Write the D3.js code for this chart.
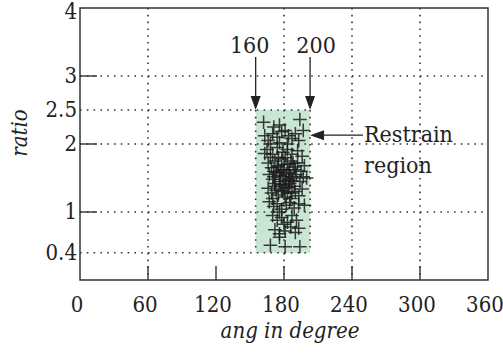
<!DOCTYPE html>
<html>
<head>
<meta charset="utf-8">
<script src="https://cdn.jsdelivr.net/npm/d3@7"></script>
<style>
  html, body { margin: 0; padding: 0; background: #fff; }
</style>
</head>
<body>
<div id="chart"></div>
<script>
// axis ticks
const xTicks = [0, 60, 120, 180, 240, 300, 360];
const yTicks = [0.4, 1, 2, 2.5, 3, 4];
const xGrid = [60, 180, 240, 300];
const yGridFull = [1, 2, 3];
const yGridShort = [0.4, 2.5];
const yTickMarks = [1, 2, 3];

// restrain region (as drawn) and its labels
const regionX = [155, 203];
const regionY = [0.4, 2.5];
const regionLabels = ['160', '200'];
const noteLines = ['Restrain', 'region'];
const noteRatio = 2.13;

// scatter points: [angle, ratio]
const points = [
  [162, 2.32], [194, 2.36], [176, 2.28], [197, 2.2], [171, 2.25],
  [163, 2.12], [166, 2.05], [170, 2.15], [174, 2.1], [178, 2.18], [181, 2.2],
  [184, 2.12], [187, 2.08], [190, 2.15], [168, 2.0], [176, 2.02], [183, 2.0], [193, 2.05],
  [165, 1.92], [170, 1.85], [174, 1.95], [179, 1.88], [183, 1.92], [187, 1.85],
  [192, 1.9], [196, 1.82], [168, 1.8], [181, 1.8], [163, 1.86],
  [166, 1.72], [169, 1.65], [172, 1.75], [175, 1.68], [178, 1.78], [180, 1.62],
  [183, 1.7], [186, 1.75], [189, 1.66], [192, 1.72], [195, 1.6], [198, 1.68],
  [171, 1.6], [185, 1.62], [177, 1.58],
  [167, 1.55], [170, 1.48], [173, 1.58], [176, 1.45], [179, 1.52], [182, 1.56],
  [185, 1.42], [188, 1.5], [191, 1.55], [194, 1.45], [197, 1.52], [200, 1.5],
  [172, 1.42], [181, 1.4], [187, 1.46],
  [166, 1.35], [169, 1.28], [172, 1.38], [175, 1.25], [178, 1.32], [181, 1.22],
  [184, 1.36], [187, 1.28], [190, 1.3], [193, 1.24], [196, 1.34], [170, 1.2], [186, 1.2],
  [174, 1.66], [180, 1.7], [176, 1.54], [184, 1.58], [189, 1.38], [179, 1.3],
  [173, 1.32], [183, 1.28], [177, 1.4], [186, 1.52], [190, 1.62], [175, 1.8],
  [182, 1.46], [178, 1.62], [171, 1.52], [188, 1.72], [180, 1.35], [184, 1.48],
  [167, 1.15], [171, 1.08], [174, 1.12], [178, 1.04], [182, 1.1], [185, 1.14],
  [189, 1.06], [193, 1.12], [198, 1.1], [176, 1.0],
  [170, 0.95], [174, 0.88], [178, 0.92], [183, 0.85], [187, 0.95], [191, 0.88], [180, 0.82],
  [172, 0.74], [176, 0.68], [181, 0.72], [186, 0.78], [190, 0.7], [193, 0.76], [176, 0.63],
  [168, 0.51], [181, 0.49], [194, 0.49]
];

const width = 503, height = 353;
const margin = { top: 8, right: 15, bottom: 73, left: 80 };

const svg = d3.select('#chart').append('svg')
  .attr('width', width)
  .attr('height', height)
  .style('font-family', "'DejaVu Serif Condensed', 'DejaVu Serif'");

const x = d3.scaleLinear().domain([0, 360]).range([margin.left, width - margin.right]);
const y = d3.scaleLinear().domain([0, 4]).range([height - margin.bottom, margin.top]);

const dotted = '1.6,5.2';
const ink = '#222';
const fs = 22;

// green region
svg.append('rect')
  .attr('x', x(regionX[0]))
  .attr('y', y(regionY[1]))
  .attr('width', x(regionX[1]) - x(regionX[0]))
  .attr('height', y(regionY[0]) - y(regionY[1]))
  .attr('fill', '#c8e6d3');

// grid
const grid = svg.append('g')
  .attr('stroke', '#333')
  .attr('stroke-width', 1.6)
  .attr('stroke-dasharray', dotted);

grid.selectAll('.vgrid').data(xGrid).enter().append('line')
  .attr('x1', d => x(d)).attr('x2', d => x(d))
  .attr('y1', y(4)).attr('y2', y(0));

grid.selectAll('.hgrid').data(yGridFull).enter().append('line')
  .attr('x1', x(0)).attr('x2', x(360))
  .attr('y1', d => y(d)).attr('y2', d => y(d));

grid.selectAll('.hshort').data(yGridShort).enter().append('line')
  .attr('x1', x(0)).attr('x2', x(regionX[1]))
  .attr('y1', d => y(d)).attr('y2', d => y(d));

grid.selectAll('.vregion').data(regionX).enter().append('line')
  .attr('x1', d => x(d)).attr('x2', d => x(d))
  .attr('y1', y(regionY[1])).attr('y2', y(regionY[0]));

// frame
svg.append('rect')
  .attr('x', x(0)).attr('y', y(4))
  .attr('width', x(360) - x(0)).attr('height', y(0) - y(4))
  .attr('fill', 'none')
  .attr('stroke', '#333')
  .attr('stroke-width', 1.5);

// tick marks
svg.selectAll('.xtick').data(xTicks.slice(1, -1)).enter().append('line')
  .attr('x1', d => x(d)).attr('x2', d => x(d))
  .attr('y1', y(0)).attr('y2', y(0) - 14)
  .attr('stroke', '#333').attr('stroke-width', 1.4);

svg.selectAll('.ytick').data(yTickMarks).enter().append('line')
  .attr('x1', x(0)).attr('x2', x(0) + 17)
  .attr('y1', d => y(d)).attr('y2', d => y(d))
  .attr('stroke', '#333').attr('stroke-width', 1.4);

// tick labels
svg.selectAll('.xlabel').data(xTicks).enter().append('text')
  .attr('x', d => x(d) - 3)
  .attr('y', 312)
  .attr('text-anchor', 'middle')
  .attr('font-size', fs)
  .attr('fill', ink)
  .text(d => d);

svg.selectAll('.ylabel').data(yTicks).enter().append('text')
  .attr('x', x(0) - 3)
  .attr('y', d => y(d) + (d === 4 ? 4 : 0))
  .attr('dy', '0.34em')
  .attr('text-anchor', 'end')
  .attr('font-size', fs)
  .attr('fill', ink)
  .text(d => d);

// axis titles
svg.append('text')
  .attr('x', 290).attr('y', 338)
  .attr('text-anchor', 'middle')
  .attr('font-size', fs)
  .attr('font-style', 'italic')
  .attr('fill', ink)
  .text('ang in degree');

svg.append('text')
  .attr('transform', 'translate(27,133) rotate(-90)')
  .attr('text-anchor', 'middle')
  .attr('font-size', fs)
  .attr('font-style', 'italic')
  .attr('fill', ink)
  .text('ratio');

// scatter crosses
const arm = 6.8;
svg.append('g').selectAll('path').data(points).enter().append('path')
  .attr('d', d => {
    const cx = x(d[0]), cy = y(d[1]);
    return `M${cx - arm},${cy}H${cx + arm}M${cx},${cy - arm}V${cy + arm}`;
  })
  .attr('fill', 'none')
  .attr('stroke', '#1c1c1c')
  .attr('stroke-opacity', 0.85)
  .attr('stroke-width', 1.5);

// arrowheads
function head(g, tx, ty, dir) {
  // dir: 'down' or 'left'
  const len = 14, half = 5;
  const pts = dir === 'down'
    ? [[tx, ty], [tx - half, ty - len], [tx + half, ty - len]]
    : [[tx, ty], [tx + len, ty - half], [tx + len, ty + half]];
  g.append('path').attr('d', d3.line()(pts) + 'Z').attr('fill', ink);
}

const ann = svg.append('g');
regionX.forEach((v, i) => {
  const ax = x(v);
  ann.append('line')
    .attr('x1', ax).attr('x2', ax)
    .attr('y1', 57).attr('y2', y(regionY[1]) - 4)
    .attr('stroke', ink).attr('stroke-width', 1.3);
  head(ann, ax, y(regionY[1]), 'down');
  ann.append('text')
    .attr('x', ax + (i === 0 ? -6 : 6))
    .attr('y', 53)
    .attr('text-anchor', 'middle')
    .attr('font-size', 23)
    .attr('fill', ink)
    .text(regionLabels[i]);
});

const ny = y(noteRatio);
ann.append('line')
  .attr('x1', x(regionX[1]) + 4).attr('x2', 363)
  .attr('y1', ny).attr('y2', ny)
  .attr('stroke', ink).attr('stroke-width', 1.3);
head(ann, x(regionX[1]), ny, 'left');

ann.selectAll('.note').data(noteLines).enter().append('text')
  .attr('x', 364)
  .attr('y', (d, i) => 142 + i * 31)
  .attr('font-size', 23)
  .attr('fill', ink)
  .text(d => d);
</script>
</body>
</html>
